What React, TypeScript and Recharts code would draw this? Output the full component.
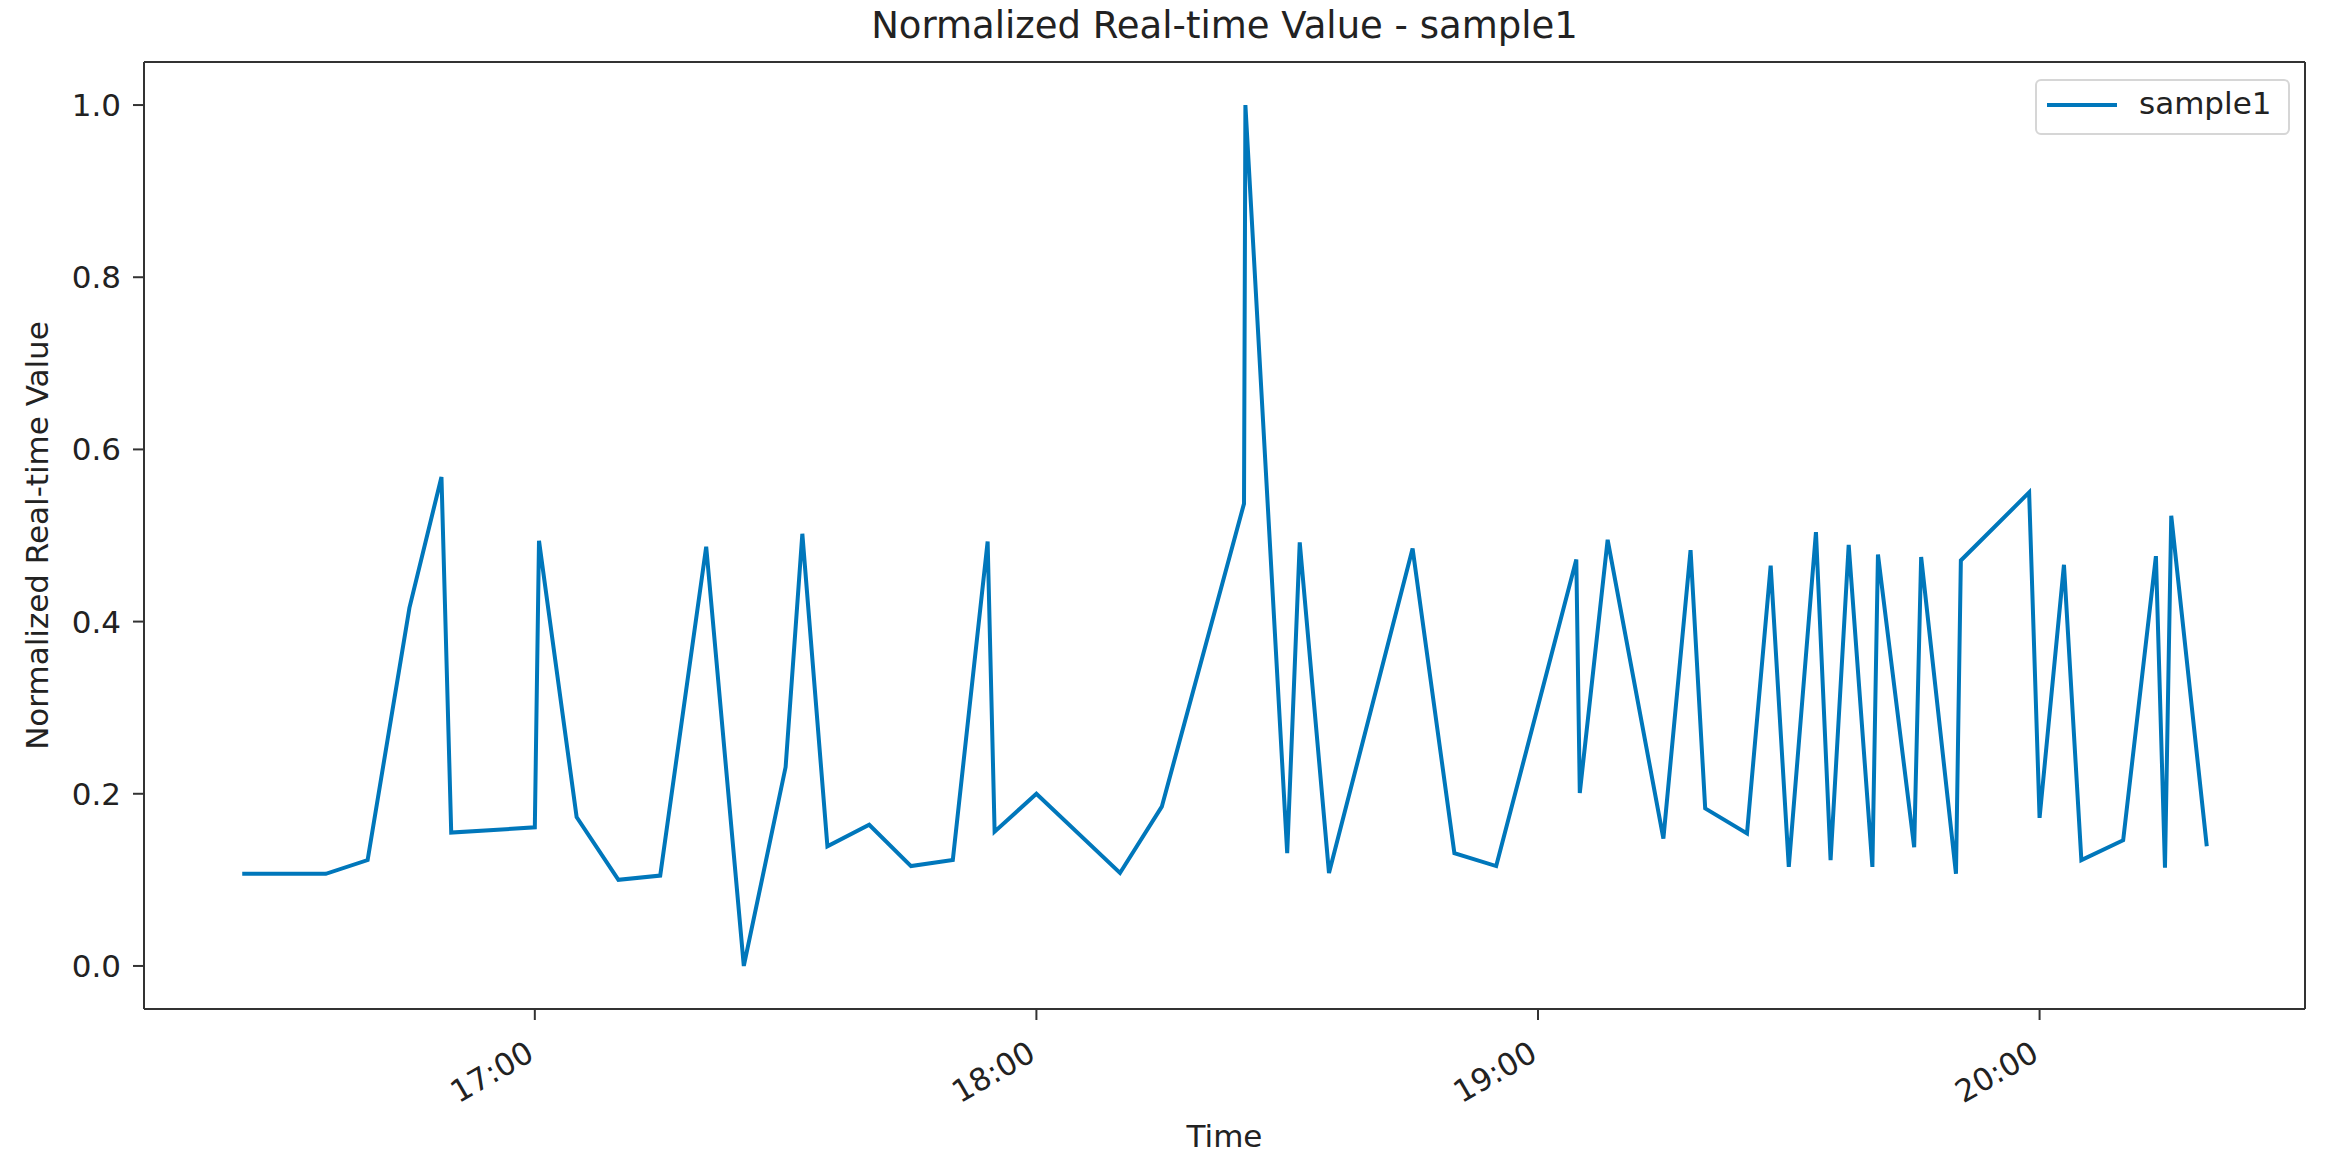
import { LineChart, Line, XAxis, YAxis } from "recharts";

// sample timestamps (HH:MM:SS) and normalized values
const times = [
  "16:25:00", "16:35:00", "16:40:00", "16:45:00", "16:48:50", "16:50:00",
  "17:00:00", "17:00:30", "17:05:00", "17:10:00", "17:15:00", "17:20:30",
  "17:25:00", "17:30:00", "17:32:00", "17:35:00", "17:40:00", "17:45:00",
  "17:50:00", "17:54:10", "17:55:00", "18:00:00", "18:10:00", "18:15:00",
  "18:24:50", "18:25:00", "18:30:00", "18:31:30", "18:35:00", "18:45:00",
  "18:50:00", "18:55:00", "19:04:35", "19:05:00", "19:08:20", "19:15:00",
  "19:18:15", "19:20:00", "19:25:00", "19:27:50", "19:30:00", "19:33:15",
  "19:35:00", "19:37:10", "19:40:00", "19:40:40", "19:45:00", "19:45:50",
  "19:50:00", "19:50:35", "19:58:45", "20:00:00", "20:02:55", "20:05:00",
  "20:10:00", "20:13:55", "20:15:00", "20:15:45", "20:20:00",
];

const values = [
  0.107, 0.107, 0.123, 0.416, 0.568, 0.155,
  0.161, 0.494, 0.173, 0.1, 0.105, 0.487,
  0.0, 0.231, 0.502, 0.139, 0.164, 0.116,
  0.123, 0.493, 0.156, 0.2, 0.108, 0.185,
  0.537, 1.0, 0.131, 0.492, 0.108, 0.485,
  0.131, 0.116, 0.472, 0.201, 0.495, 0.148,
  0.483, 0.183, 0.154, 0.465, 0.115, 0.504,
  0.123, 0.489, 0.115, 0.478, 0.138, 0.475,
  0.107, 0.471, 0.55, 0.172, 0.466, 0.123,
  0.146, 0.476, 0.114, 0.523, 0.139,
];

const xTickLabels = ["17:00", "18:00", "19:00", "20:00"];
const yTicks = [0, 0.2, 0.4, 0.6, 0.8, 1.0];
const seriesName = "sample1";

const FONT = "DejaVu Sans, sans-serif";
const BLUE = "#0077bb";
const INK = "#222";
const SPINE = { stroke: "#333", strokeWidth: 2 };

const toMin = (s: string) => {
  const [h, m, sec = "0"] = s.split(":");
  return Number(h) * 60 + Number(m) + Number(sec) / 60;
};

const fmtTime = (v: number) => {
  const h = Math.floor(v / 60);
  const m = Math.round(v - h * 60);
  return `${h}:${String(m).padStart(2, "0")}`;
};

const data = times.map((t, i) => ({ t: toMin(t), value: values[i] }));

// matplotlib-like 5% margins
const tMin = Math.min(...data.map((d) => d.t));
const tMax = Math.max(...data.map((d) => d.t));
const pad = (tMax - tMin) * 0.05;
const xDomain = [tMin - pad, tMax + pad];
const xTicks = xTickLabels.map(toMin);

const TimeTick = (props: any) => {
  const { x, y, payload } = props;
  const ax = x + 1;
  const ay = y + 39;
  return (
    <text
      x={ax}
      y={ay}
      textAnchor="end"
      transform={`rotate(-30, ${ax}, ${ay})`}
      fontSize={31}
      fontFamily={FONT}
      fill={INK}
    >
      {fmtTime(payload.value)}
    </text>
  );
};

export default function App() {
  return (
    <div
      style={{
        position: "absolute",
        left: 0,
        top: 0,
        width: 2328,
        height: 1161,
        background: "#fff",
        fontFamily: FONT,
      }}
    >
      <LineChart
        width={2328}
        height={1161}
        data={data}
        margin={{ top: 61, right: 22, bottom: 0, left: 0 }}
      >
        <XAxis
          xAxisId="bottom"
          dataKey="t"
          type="number"
          domain={xDomain}
          ticks={xTicks}
          allowDataOverflow
          height={152}
          tickSize={11}
          tickMargin={0}
          tick={<TimeTick />}
          axisLine={SPINE}
          tickLine={SPINE}
          label={{
            value: "Time",
            position: "insideBottom",
            offset: 14,
            style: { fontSize: 31, fontFamily: FONT, fill: INK },
          }}
        />
        <XAxis
          xAxisId="top"
          dataKey="t"
          type="number"
          orientation="top"
          domain={xDomain}
          ticks={xTicks}
          allowDataOverflow
          height={1}
          tick={false}
          tickLine={false}
          axisLine={SPINE}
        />
        <YAxis
          yAxisId="left"
          type="number"
          domain={[-0.05, 1.05]}
          ticks={yTicks}
          allowDataOverflow
          width={144}
          tickSize={11}
          tickMargin={12}
          tickFormatter={(v: number) => v.toFixed(1)}
          tick={{ fontSize: 31, fontFamily: FONT, fill: INK }}
          axisLine={SPINE}
          tickLine={SPINE}
          label={{
            value: "Normalized Real-time Value",
            angle: -90,
            position: "insideLeft",
            offset: 37,
            style: { fontSize: 31, fontFamily: FONT, fill: INK, textAnchor: "middle" },
          }}
        />
        <YAxis
          yAxisId="right"
          type="number"
          orientation="right"
          domain={[-0.05, 1.05]}
          ticks={yTicks}
          allowDataOverflow
          width={1}
          tick={false}
          tickLine={false}
          axisLine={SPINE}
        />
        <Line
          xAxisId="bottom"
          yAxisId="left"
          type="linear"
          dataKey="value"
          name={seriesName}
          stroke={BLUE}
          strokeWidth={4}
          dot={false}
          isAnimationActive={false}
        />
        <Line
          xAxisId="top"
          yAxisId="right"
          dataKey="value"
          stroke="none"
          strokeWidth={0}
          dot={false}
          legendType="none"
          isAnimationActive={false}
        />
      </LineChart>

      <div
        style={{
          position: "absolute",
          left: 144,
          width: 2161,
          top: 7,
          textAlign: "center",
          fontSize: 37,
          lineHeight: "37px",
          color: INK,
          whiteSpace: "nowrap",
        }}
      >
        Normalized Real-time Value - {seriesName}
      </div>

      <div
        style={{
          position: "absolute",
          left: 2035,
          top: 79,
          width: 255,
          height: 56,
          boxSizing: "border-box",
          border: "2px solid #d6d6d6",
          borderRadius: 6,
          background: "#fff",
        }}
      >
        <svg
          width={90}
          height={52}
          style={{ position: "absolute", left: 0, top: 0 }}
        >
          <line x1={10} x2={80} y1={24} y2={24} stroke={BLUE} strokeWidth={4} />
        </svg>
        <span
          style={{
            position: "absolute",
            left: 102,
            top: 7,
            fontSize: 31,
            lineHeight: "31px",
            color: INK,
            whiteSpace: "nowrap",
          }}
        >
          {seriesName}
        </span>
      </div>
    </div>
  );
}
